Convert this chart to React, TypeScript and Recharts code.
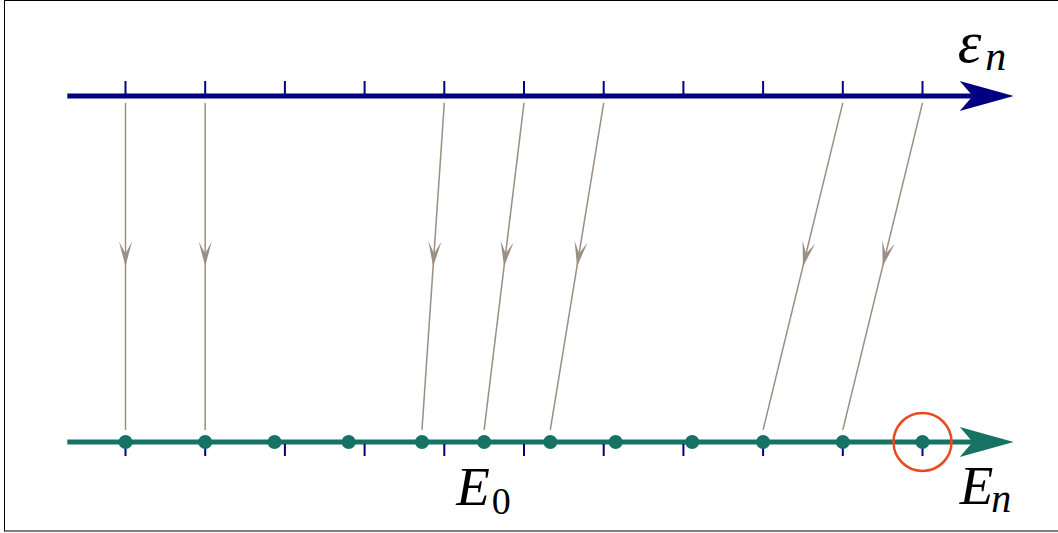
import { ComposedChart, Line, Scatter, XAxis, YAxis } from "recharts";

// positions in units of the ε level spacing
const epsLevels = [0, 1, 2, 3, 4, 5, 6, 7, 8, 9, 10];
const energyLevels = [0, 1.0, 1.87, 2.8, 3.72, 4.5, 5.33, 6.15, 7.11, 8.0, 9.0, 10.0];
// ε_k that get mapped onto E_k by an arrow
const mappedLevels = [0, 1, 4, 5, 6, 9, 10];
const groundIndex = 5; // E_0
const highlightIndex = 11;
const axisRange = [-0.73, 10.63];

const NAVY = "#000080";
const TEAL = "#167264";
const GRAY = "#9b8e82";
const RED = "#ea4a1f";
const FONT = "'Liberation Serif', 'Times New Roman', serif";

const W = 1058;
const H = 533;
// layout: ε_0 at 125.5px, 79.7px per level; top axis at 96px, bottom at 442px
const X_DOMAIN = [-125.5 / 79.7, (W - 125.5) / 79.7];
const Y_DOMAIN = [(442 - H) / 346, 442 / 346];
const ARROW_TOP = 0.98;
const ARROW_BOTTOM = 0.035;

const TOP = 1;
const BOTTOM = 0;

const topAxis = axisRange.map((x) => ({ x, y: TOP }));
const bottomAxis = axisRange.map((x) => ({ x, y: BOTTOM }));
const topTicks = epsLevels.map((x) => ({ x, y: TOP }));
const bottomTicks = epsLevels.map((x) => ({ x, y: BOTTOM }));
const dots = energyLevels.map((x) => ({ x, y: BOTTOM }));
const highlight = [{ x: energyLevels[highlightIndex], y: BOTTOM }];
const arrows = mappedLevels.map((k) => [
  { x: epsLevels[k], y: ARROW_TOP },
  { x: energyLevels[k], y: ARROW_BOTTOM },
]);

function axisHead(color: string) {
  return (p: any) => {
    if (p.index !== p.points.length - 1) return <g key={p.key} />;
    return (
      <path
        key={p.key}
        d="M41,0 L-13,-15 L0,0 L-13,15 Z"
        fill={color}
        transform={`translate(${p.cx},${p.cy})`}
      />
    );
  };
}

function midArrow(p: any) {
  const pts = p.points;
  if (p.index !== 0 || !pts || pts.length < 2) return <g key={p.key} />;
  const a = pts[0];
  const b = pts[pts.length - 1];
  const mx = (a.x + b.x) / 2;
  const my = (a.y + b.y) / 2;
  const deg = (Math.atan2(b.y - a.y, b.x - a.x) * 180) / Math.PI;
  return (
    <path
      key={p.key}
      d="M0,0 L-25,-6.5 L-13,0 L-25,6.5 Z"
      fill={GRAY}
      transform={`translate(${mx},${my}) rotate(${deg})`}
    />
  );
}

interface LabelOpts {
  base: string;
  sub: string;
  subItalic: boolean;
  size: number;
  subSize: number;
  dx: number;
  dy: number;
  subDx: number;
  subDy: number;
}

function mathLabel(o: LabelOpts) {
  return (p: any) => (
    <text x={p.cx + o.dx} y={p.cy + o.dy} fontFamily={FONT} fontSize={o.size} fontStyle="italic" fill="#000">
      <tspan>{o.base}</tspan>
      <tspan fontSize={o.subSize} fontStyle={o.subItalic ? "italic" : "normal"} dx={o.subDx} dy={o.subDy}>
        {o.sub}
      </tspan>
    </text>
  );
}

export default function App() {
  return (
    <div style={{ position: "absolute", left: 0, top: 0, width: W, height: H, overflow: "hidden", background: "#fff" }}>
      <div
        style={{
          position: "absolute",
          left: 4,
          top: 0,
          width: W + 20,
          height: 529,
          borderTop: "1px solid #000",
          borderLeft: "1px solid #000",
          borderBottom: "2px solid #7f7f7f",
        }}
      />
      <div style={{ position: "absolute", left: 0, top: 0 }}>
        <ComposedChart width={W} height={H} margin={{ top: 0, right: 0, bottom: 0, left: 0 }}>
          <XAxis dataKey="x" type="number" domain={X_DOMAIN} hide />
          <YAxis dataKey="y" type="number" domain={Y_DOMAIN} hide />

          {arrows.map((d, i) => (
            <Line
              key={`arrow-${i}`}
              data={d}
              dataKey="y"
              type="linear"
              stroke={GRAY}
              strokeWidth={1.5}
              dot={midArrow}
              activeDot={false}
              isAnimationActive={false}
            />
          ))}

          <Scatter data={topTicks} isAnimationActive={false}
            shape={(p: any) => <line x1={p.cx} x2={p.cx} y1={p.cy - 15} y2={p.cy - 2} stroke={NAVY} strokeWidth={2} />} />
          <Scatter data={bottomTicks} isAnimationActive={false}
            shape={(p: any) => <line x1={p.cx} x2={p.cx} y1={p.cy + 2} y2={p.cy + 14} stroke={NAVY} strokeWidth={2} />} />

          <Line data={topAxis} dataKey="y" type="linear" stroke={NAVY} strokeWidth={5}
            dot={axisHead(NAVY)} activeDot={false} isAnimationActive={false} />
          <Line data={bottomAxis} dataKey="y" type="linear" stroke={TEAL} strokeWidth={5}
            dot={axisHead(TEAL)} activeDot={false} isAnimationActive={false} />

          <Scatter data={dots} isAnimationActive={false}
            shape={(p: any) => <circle cx={p.cx} cy={p.cy} r={7} fill={TEAL} />} />
          <Scatter data={highlight} isAnimationActive={false}
            shape={(p: any) => <circle cx={p.cx} cy={p.cy} r={29} fill="none" stroke={RED} strokeWidth={2.5} />} />

          <Scatter data={[{ x: axisRange[1], y: TOP }]} isAnimationActive={false}
            shape={mathLabel({ base: "ε", sub: "n", subItalic: true, size: 60, subSize: 42, dx: -15, dy: -34, subDx: 4, subDy: 8 })} />
          <Scatter data={[{ x: axisRange[1], y: BOTTOM }]} isAnimationActive={false}
            shape={mathLabel({ base: "E", sub: "n", subItalic: true, size: 55, subSize: 40, dx: -13, dy: 62, subDx: -2, subDy: 8 })} />
          <Scatter data={[{ x: energyLevels[groundIndex], y: BOTTOM }]} isAnimationActive={false}
            shape={mathLabel({ base: "E", sub: "0", subItalic: false, size: 55, subSize: 38, dx: -28, dy: 63, subDx: 2, subDy: 9 })} />
        </ComposedChart>
      </div>
    </div>
  );
}
